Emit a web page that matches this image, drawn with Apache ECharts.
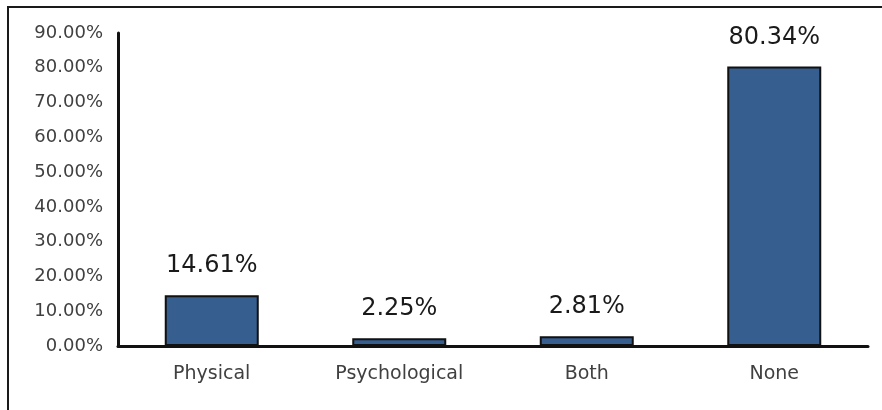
<!DOCTYPE html>
<html>
<head>
<meta charset="utf-8">
<script src="https://cdn.jsdelivr.net/npm/echarts@6/dist/echarts.min.js"></script>
<style>
  html, body { margin: 0; padding: 0; background: #fff; }
  #frame { position: absolute; left: 7px; top: 6px; width: 875px; height: 404px;
           border-top: 2px solid #1a1a1a; border-left: 2px solid #1a1a1a; box-sizing: border-box; }
  #chart { position: absolute; left: 0; top: 0; width: 882px; height: 410px; }
</style>
</head>
<body>
<div id="frame"></div>
<div id="chart"></div>
<script>
// Share of respondents by type of condition
const categories = ['Physical', 'Psychological', 'Both', 'None'];
const percentages = [14.61, 2.25, 2.81, 80.34];
const yTicks = { min: 0, max: 90, step: 10 };

const chart = echarts.init(document.getElementById('chart'), null, { renderer: 'canvas' });
const fontFamily = '"DejaVu Sans", sans-serif';

chart.setOption({
  animation: false,
  grid: { left: 118, right: 14, top: 33, bottom: 64 },
  xAxis: {
    type: 'category',
    data: categories,
    axisLine: { lineStyle: { color: '#111', width: 3 } },
    axisTick: { show: false },
    axisLabel: { color: '#404040', fontSize: 19, fontFamily: fontFamily, margin: 19 }
  },
  yAxis: {
    type: 'value',
    min: yTicks.min,
    max: yTicks.max,
    interval: yTicks.step,
    axisLine: { show: true, lineStyle: { color: '#111', width: 3 } },
    axisTick: { show: false },
    splitLine: { show: false },
    axisLabel: {
      color: '#404040', fontSize: 18, fontFamily: fontFamily, margin: 15,
      padding: [3, 0, 0, 0],
      formatter: v => v.toFixed(2) + '%'
    }
  },
  series: [{
    type: 'bar',
    data: percentages,
    barWidth: 94,
    itemStyle: { color: '#365e8f', borderColor: '#111', borderWidth: 2 },
    label: {
      show: true,
      position: 'top',
      distance: 17,
      color: '#1a1a1a',
      fontSize: 24,
      fontFamily: fontFamily,
      formatter: p => p.value.toFixed(2) + '%'
    }
  }]
});
</script>
</body>
</html>
